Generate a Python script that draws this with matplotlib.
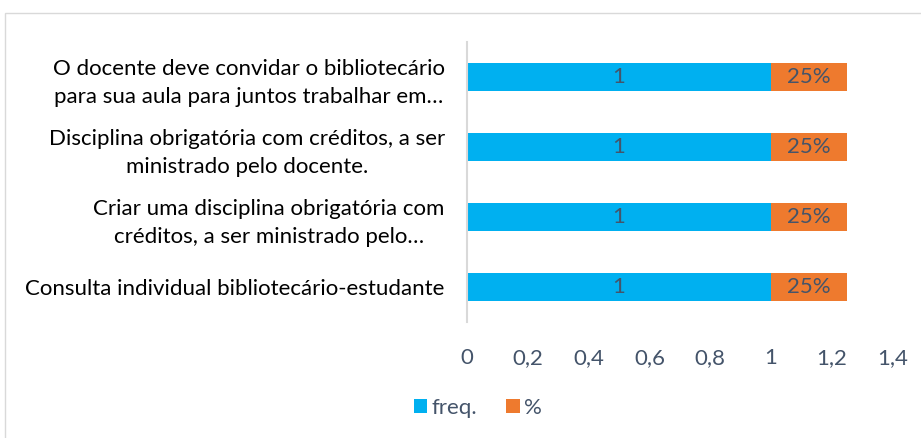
import matplotlib
matplotlib.use('Agg')
import matplotlib.pyplot as plt
from matplotlib.patches import Rectangle
from matplotlib.ticker import FuncFormatter

categorias = ['Consulta individual bibliotecário-estudante',
              'Criar uma disciplina obrigatória com\ncréditos, a ser ministrado pelo…',
              'Disciplina obrigatória com créditos, a ser\nministrado pelo docente.',
              'O docente deve convidar o bibliotecário\npara sua aula para juntos trabalhar em…']
freq = [1, 1, 1, 1]
pct = [0.25, 0.25, 0.25, 0.25]
pct_labels = ['25%', '25%', '25%', '25%']

plt.rcParams['font.family'] = ['Lato', 'DejaVu Sans']
cinza = '#44546A'
fs = 16

fig = plt.figure(figsize=(9.21, 4.38), dpi=100)
ax = fig.add_axes([467/921, 1 - 322/438, (892.6 - 467)/921, (322 - 42)/438])

y = range(len(categorias))
b1 = ax.barh(y, freq, height=0.4, color='#00B0F0', label='freq.')
b2 = ax.barh(y, pct, left=freq, height=0.4, color='#EE7A2E', label='%')

for i in y:
    ax.text(freq[i] / 2, i, str(freq[i]), ha='center', va='center', fontsize=fs, color=cinza)
    ax.text(freq[i] + pct[i] / 2, i, pct_labels[i], ha='center', va='center', fontsize=fs, color=cinza)

ax.set_xlim(0, 1.4)
ax.set_ylim(-0.5, len(categorias) - 0.5)
ax.set_xticks([0, 0.2, 0.4, 0.6, 0.8, 1, 1.2, 1.4])
ax.xaxis.set_major_formatter(FuncFormatter(lambda v, p: ('%g' % round(v, 1)).replace('.', ',')))
ax.set_yticks(list(y))
ax.set_yticklabels(categorias, fontsize=fs, color='black', multialignment='center', linespacing=1.5)
ax.tick_params(axis='y', length=0, pad=16)
ax.tick_params(axis='x', length=0, labelsize=fs, labelcolor=cinza, pad=19)
for s in ['top', 'right', 'bottom']:
    ax.spines[s].set_visible(False)
ax.spines['left'].set_color('#D9D9D9')
ax.spines['left'].set_linewidth(1.5)

fig.legend(handles=[b1, b2], loc='center', bbox_to_anchor=(478/921, 1 - 408/438), ncol=2,
           frameon=False, fontsize=fs, labelcolor=cinza, handlelength=0.6, handleheight=0.6,
           handletextpad=0.2, columnspacing=1.3)

fig.patches.append(Rectangle((5/921, -0.1), 1.1, 1 - 13/438 + 0.1, transform=fig.transFigure,
                             fill=False, edgecolor='#D9D9D9', linewidth=1))

fig.savefig('out.png', dpi=100)
